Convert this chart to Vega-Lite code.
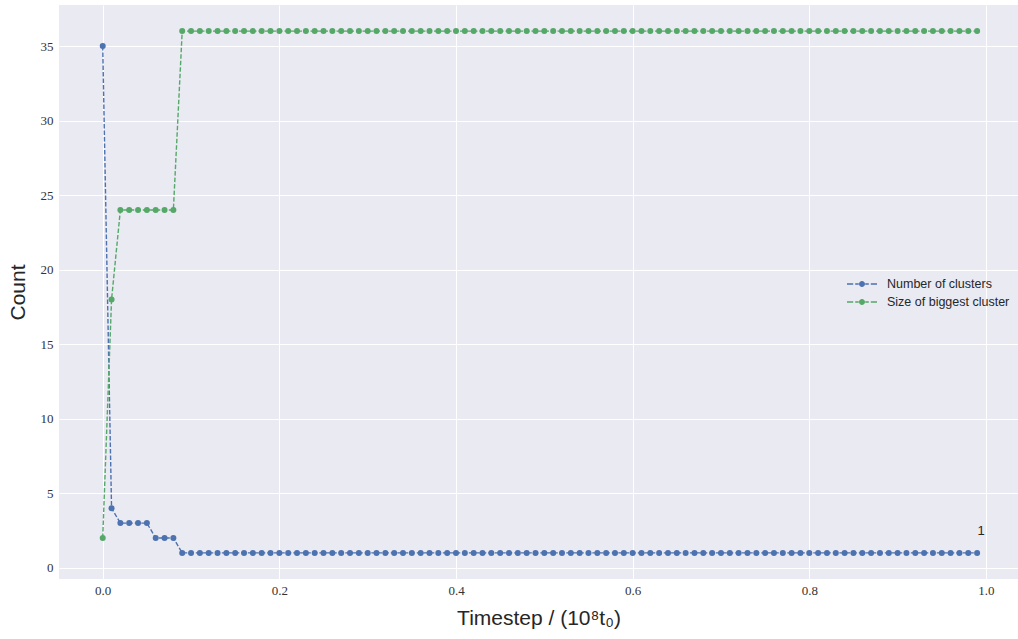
{
  "$schema": "https://vega.github.io/schema/vega-lite/v6.json",
  "width": 959,
  "height": 574,
  "autosize": {"type": "none"},
  "padding": {"left": 59, "top": 5, "right": 0, "bottom": 60},
  "background": "white",
  "config": {
    "view": {"fill": "#EAEAF2", "stroke": null},
    "axis": {
      "domain": false,
      "ticks": false,
      "grid": true,
      "gridColor": "white",
      "gridWidth": 1,
      "labelFont": "Liberation Serif",
      "labelFontSize": 13,
      "labelColor": "#333333",
      "titleFont": "Liberation Sans",
      "titleFontWeight": "normal",
      "titleFontSize": 21,
      "titleColor": "#262626"
    }
  },
  "data": {
    "values": [
      {"t": 0.00, "n": 35, "b": 2}, {"t": 0.01, "n": 4, "b": 18}, {"t": 0.02, "n": 3, "b": 24}, {"t": 0.03, "n": 3, "b": 24}, {"t": 0.04, "n": 3, "b": 24},
      {"t": 0.05, "n": 3, "b": 24}, {"t": 0.06, "n": 2, "b": 24}, {"t": 0.07, "n": 2, "b": 24}, {"t": 0.08, "n": 2, "b": 24}, {"t": 0.09, "n": 1, "b": 36},
      {"t": 0.10, "n": 1, "b": 36}, {"t": 0.11, "n": 1, "b": 36}, {"t": 0.12, "n": 1, "b": 36}, {"t": 0.13, "n": 1, "b": 36}, {"t": 0.14, "n": 1, "b": 36},
      {"t": 0.15, "n": 1, "b": 36}, {"t": 0.16, "n": 1, "b": 36}, {"t": 0.17, "n": 1, "b": 36}, {"t": 0.18, "n": 1, "b": 36}, {"t": 0.19, "n": 1, "b": 36},
      {"t": 0.20, "n": 1, "b": 36}, {"t": 0.21, "n": 1, "b": 36}, {"t": 0.22, "n": 1, "b": 36}, {"t": 0.23, "n": 1, "b": 36}, {"t": 0.24, "n": 1, "b": 36},
      {"t": 0.25, "n": 1, "b": 36}, {"t": 0.26, "n": 1, "b": 36}, {"t": 0.27, "n": 1, "b": 36}, {"t": 0.28, "n": 1, "b": 36}, {"t": 0.29, "n": 1, "b": 36},
      {"t": 0.30, "n": 1, "b": 36}, {"t": 0.31, "n": 1, "b": 36}, {"t": 0.32, "n": 1, "b": 36}, {"t": 0.33, "n": 1, "b": 36}, {"t": 0.34, "n": 1, "b": 36},
      {"t": 0.35, "n": 1, "b": 36}, {"t": 0.36, "n": 1, "b": 36}, {"t": 0.37, "n": 1, "b": 36}, {"t": 0.38, "n": 1, "b": 36}, {"t": 0.39, "n": 1, "b": 36},
      {"t": 0.40, "n": 1, "b": 36}, {"t": 0.41, "n": 1, "b": 36}, {"t": 0.42, "n": 1, "b": 36}, {"t": 0.43, "n": 1, "b": 36}, {"t": 0.44, "n": 1, "b": 36},
      {"t": 0.45, "n": 1, "b": 36}, {"t": 0.46, "n": 1, "b": 36}, {"t": 0.47, "n": 1, "b": 36}, {"t": 0.48, "n": 1, "b": 36}, {"t": 0.49, "n": 1, "b": 36},
      {"t": 0.50, "n": 1, "b": 36}, {"t": 0.51, "n": 1, "b": 36}, {"t": 0.52, "n": 1, "b": 36}, {"t": 0.53, "n": 1, "b": 36}, {"t": 0.54, "n": 1, "b": 36},
      {"t": 0.55, "n": 1, "b": 36}, {"t": 0.56, "n": 1, "b": 36}, {"t": 0.57, "n": 1, "b": 36}, {"t": 0.58, "n": 1, "b": 36}, {"t": 0.59, "n": 1, "b": 36},
      {"t": 0.60, "n": 1, "b": 36}, {"t": 0.61, "n": 1, "b": 36}, {"t": 0.62, "n": 1, "b": 36}, {"t": 0.63, "n": 1, "b": 36}, {"t": 0.64, "n": 1, "b": 36},
      {"t": 0.65, "n": 1, "b": 36}, {"t": 0.66, "n": 1, "b": 36}, {"t": 0.67, "n": 1, "b": 36}, {"t": 0.68, "n": 1, "b": 36}, {"t": 0.69, "n": 1, "b": 36},
      {"t": 0.70, "n": 1, "b": 36}, {"t": 0.71, "n": 1, "b": 36}, {"t": 0.72, "n": 1, "b": 36}, {"t": 0.73, "n": 1, "b": 36}, {"t": 0.74, "n": 1, "b": 36},
      {"t": 0.75, "n": 1, "b": 36}, {"t": 0.76, "n": 1, "b": 36}, {"t": 0.77, "n": 1, "b": 36}, {"t": 0.78, "n": 1, "b": 36}, {"t": 0.79, "n": 1, "b": 36},
      {"t": 0.80, "n": 1, "b": 36}, {"t": 0.81, "n": 1, "b": 36}, {"t": 0.82, "n": 1, "b": 36}, {"t": 0.83, "n": 1, "b": 36}, {"t": 0.84, "n": 1, "b": 36},
      {"t": 0.85, "n": 1, "b": 36}, {"t": 0.86, "n": 1, "b": 36}, {"t": 0.87, "n": 1, "b": 36}, {"t": 0.88, "n": 1, "b": 36}, {"t": 0.89, "n": 1, "b": 36},
      {"t": 0.90, "n": 1, "b": 36}, {"t": 0.91, "n": 1, "b": 36}, {"t": 0.92, "n": 1, "b": 36}, {"t": 0.93, "n": 1, "b": 36}, {"t": 0.94, "n": 1, "b": 36},
      {"t": 0.95, "n": 1, "b": 36}, {"t": 0.96, "n": 1, "b": 36}, {"t": 0.97, "n": 1, "b": 36}, {"t": 0.98, "n": 1, "b": 36}, {"t": 0.99, "n": 1, "b": 36}
    ]
  },
  "transform": [{"fold": ["n", "b"], "as": ["key", "val"]}],
  "encoding": {
    "x": {
      "field": "t",
      "type": "quantitative",
      "scale": {"domain": [-0.0495, 1.0363], "nice": false, "zero": false},
      "axis": {"values": [0, 0.2, 0.4, 0.6, 0.8, 1.0], "format": ".1f", "labelPadding": 5, "title": "Timestep / (10⁸t₀)", "titlePadding": 10}
    },
    "y": {
      "field": "val",
      "type": "quantitative",
      "scale": {"domain": [-0.75, 37.75], "nice": false, "zero": false},
      "axis": {"values": [0, 5, 10, 15, 20, 25, 30, 35], "labelPadding": 6, "title": "Count", "titlePadding": 12}
    },
    "color": {
      "field": "key",
      "type": "nominal",
      "scale": {"domain": ["n", "b"], "range": ["#4C72B0", "#55A868"]},
      "legend": {
        "title": null,
        "orient": "none",
        "legendX": 795,
        "legendY": 271,
        "padding": 0,
        "rowPadding": 3,
        "symbolType": "M-1.875,-0.09H-1.1V0.09H-1.875Z M-0.85,-0.09H-0.4V0.09H-0.85Z M0.4,-0.09H0.85V0.09H0.4Z M1.1,-0.09H1.875V0.09H1.1Z M-0.375,0 A0.375,0.375 0 1,0 0.375,0 A0.375,0.375 0 1,0 -0.375,0Z",
        "symbolSize": 256,
        "symbolOpacity": 1,
        "symbolStrokeWidth": 0,
        "labelOffset": 17,
        "labelFont": "Liberation Sans",
        "labelFontSize": 12.5,
        "labelColor": "#262626",
        "labelExpr": "datum.value == 'n' ? 'Number of clusters' : 'Size of biggest cluster'",
        "encode": {
          "symbols": {
            "update": {
              "fill": {"scale": "color", "field": "value"},
              "strokeWidth": {"value": 0}
            }
          }
        }
      }
    }
  },
  "layer": [
    {
      "mark": {"type": "line", "strokeDash": [4.5, 2], "strokeWidth": 1.4},
      "encoding": {"detail": {"field": "key"}}
    },
    {
      "mark": {"type": "point", "filled": true, "size": 36, "opacity": 1}
    },
    {
      "transform": [{"filter": "datum.t == 0.99 && datum.key == 'n'"}],
      "mark": {"type": "text", "dx": 4, "dy": -22, "align": "center", "baseline": "middle", "font": "Liberation Sans", "fontSize": 13},
      "encoding": {"text": {"field": "val", "type": "quantitative"}, "color": {"value": "#262626"}}
    }
  ]
}
